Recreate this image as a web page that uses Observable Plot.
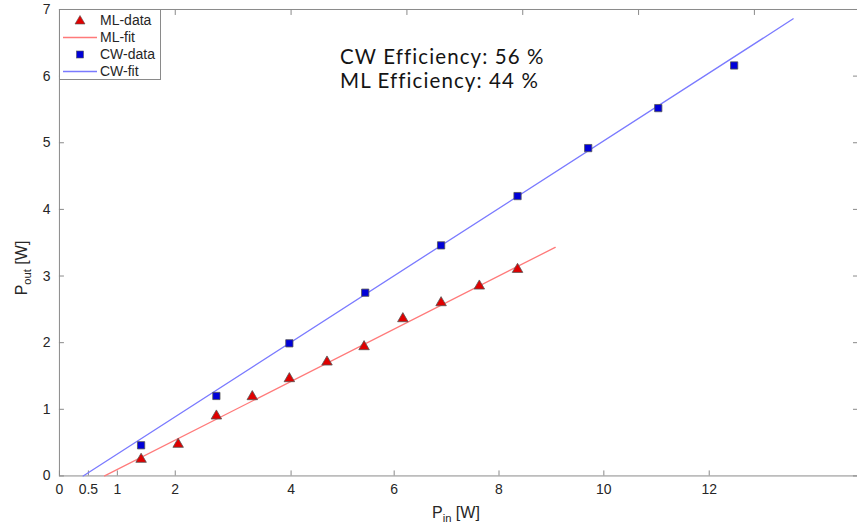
<!DOCTYPE html>
<html><head><meta charset="utf-8">
<script src="https://cdn.jsdelivr.net/npm/d3@7"></script>
<script src="https://cdn.jsdelivr.net/npm/@observablehq/plot@0.6"></script>
<style>
html,body{margin:0;padding:0;background:#fff;overflow:hidden;width:857px;height:529px}
#wrap{position:relative;width:857px;height:529px;overflow:hidden}
.ov{position:absolute;font-family:"Liberation Sans",Arial,sans-serif;color:#262626;white-space:nowrap;line-height:1}
.eff{position:absolute;font-family:Lato,sans-serif;font-size:20.5px;letter-spacing:1.1px;color:#141414;white-space:nowrap;line-height:21px;height:21px}
#legend{position:absolute;left:59px;top:9px;width:102px;height:71px;border:1px solid #8a8a8a;background:#fff;box-sizing:border-box}
#legend .row{position:absolute;left:0;height:17px;width:100px}
#legend .row span{position:absolute;left:40px;top:0;font-family:"Liberation Sans",Arial,sans-serif;font-size:14px;color:#262626;line-height:17px}
#legend svg{position:absolute;left:0;top:0}
sub{font-size:70%;vertical-align:-4px;line-height:0}
</style></head><body><div id="wrap"></div>
<script>
// ML (mode-locked) measurement
const mlPin  = [1.41, 2.05, 2.71, 3.33, 3.97, 4.62, 5.26, 5.93, 6.59, 7.25, 7.91];
const mlPout = [0.25, 0.475, 0.90, 1.19, 1.46, 1.71, 1.94, 2.36, 2.60, 2.85, 3.10];
// CW measurement
const cwPin  = [1.41, 2.71, 3.97, 5.28, 6.59, 7.91, 9.13, 10.34, 11.65];
const cwPout = [0.46, 1.20, 1.99, 2.75, 3.46, 4.20, 4.92, 5.52, 6.16];
// linear fits (end points)
const mlFitX = [0.78, 8.56];
const mlFitY = [0, 3.43];
const cwFitX = [0.41, 12.67];
const cwFitY = [0, 6.86];
// axis ticks as drawn in the figure
const xTickPos    = [0, 0.5, 1, 2, 4, 5.78, 7.59, 9.40, 11.22];
const xTickLabels = ["0", "0.5", "1", "2", "4", "6", "8", "10", "12"];
const xTopTicks   = [2, 4, 6, 8, 10, 12];
const yTicks      = [0, 1, 2, 3, 4, 5, 6, 7];
const annotations = ["CW Efficiency: 56 %", "ML Efficiency: 44 %"];
const legendItems = ["ML-data", "ML-fit", "CW-data", "CW-fit"];

const ml = mlPin.map((x, i) => ({x, y: mlPout[i]}));
const cw = cwPin.map((x, i) => ({x, y: cwPout[i]}));
const mlFit = mlFitX.map((x, i) => ({x, y: mlFitY[i]}));
const cwFit = cwFitX.map((x, i) => ({x, y: cwFitY[i]}));
const xLabelMap = new Map(xTickPos.map((d, i) => [d, xTickLabels[i]]));

const axisColor = "#8a8a8a";
const plot = Plot.plot({
  width: 858, height: 529,
  marginLeft: 59, marginRight: 0, marginTop: 9, marginBottom: 53,
  style: {fontFamily: "Liberation Sans, Arial, sans-serif", fontSize: "14px", color: "#262626", background: "white"},
  x: {domain: [0, 13.78]},
  y: {domain: [0, 7]},
  marks: [
    Plot.frame({stroke: axisColor}),
    Plot.axisX(xTickPos, {anchor: "bottom", tickSize: -5, tickPadding: 13, tickFormat: d => xLabelMap.get(d), label: null, stroke: axisColor, fill: "#262626"}),
    Plot.axisX(xTopTicks, {anchor: "top", tickSize: -5, tickFormat: () => "", label: null, stroke: axisColor}),
    Plot.axisY(yTicks, {anchor: "left", tickSize: -5, tickPadding: 14, tickFormat: d => String(d), label: null, stroke: axisColor, fill: "#262626"}),
    Plot.axisY(yTicks, {anchor: "right", tickSize: -5, tickFormat: () => "", label: null, stroke: axisColor}),
    Plot.line(mlFit, {x: "x", y: "y", stroke: "#ff7a7a", strokeWidth: 1.3}),
    Plot.line(cwFit, {x: "x", y: "y", stroke: "#7a7aff", strokeWidth: 1.3}),
    Plot.dot(ml, {x: "x", y: "y", symbol: "triangle", r: 3.9, fill: "#e00000", stroke: "#555", strokeWidth: 0.8}),
    Plot.dot(cw, {x: "x", y: "y", symbol: "square", r: 4.1, fill: "#0000d8", stroke: "#555", strokeWidth: 0.8})
  ]
});
const wrap = document.getElementById("wrap");
plot.style.position = "absolute"; plot.style.left = "0"; plot.style.top = "0";
wrap.appendChild(plot);

// annotations
const effTops = [46, 70];
annotations.forEach((t, i) => {
  const eff = document.createElement("div");
  eff.className = "eff";
  eff.style.left = "340px"; eff.style.top = effTops[i] + "px";
  eff.textContent = t;
  wrap.appendChild(eff);
});

// axis labels
const xl = document.createElement("div");
xl.className = "ov"; xl.style.fontSize = "16px";
xl.style.left = "432px"; xl.style.top = "505px";
xl.innerHTML = "P<sub>in</sub> [W]";
wrap.appendChild(xl);
const yl = document.createElement("div");
yl.className = "ov"; yl.style.fontSize = "16px";
yl.style.left = "22px"; yl.style.top = "268px";
yl.style.transform = "translate(-50%,-50%) rotate(-90deg)";
yl.innerHTML = "P<sub>out</sub> [W]";
wrap.appendChild(yl);

// legend
const lg = document.createElement("div");
lg.id = "legend";
const rowTops = [2, 19, 36, 53];
legendItems.forEach((name, i) => {
  const row = document.createElement("div");
  row.className = "row"; row.style.top = rowTops[i] + "px";
  let sym = "";
  if (i === 0) sym = '<svg width="40" height="17"><path d="M20,3.5 L25,12 L15,12 Z" fill="#e00000" stroke="#555" stroke-width="0.6"/></svg>';
  if (i === 1) sym = '<svg width="40" height="17"><line x1="3" x2="37" y1="8.5" y2="8.5" stroke="#ff7a7a" stroke-width="1.3"/></svg>';
  if (i === 2) sym = '<svg width="40" height="17"><rect x="16.5" y="5" width="7" height="7" fill="#0000d8" stroke="#555" stroke-width="0.6"/></svg>';
  if (i === 3) sym = '<svg width="40" height="17"><line x1="3" x2="37" y1="8.5" y2="8.5" stroke="#7a7aff" stroke-width="1.3"/></svg>';
  row.innerHTML = sym + "<span>" + name + "</span>";
  lg.appendChild(row);
});
wrap.appendChild(lg);
</script>
</body></html>
